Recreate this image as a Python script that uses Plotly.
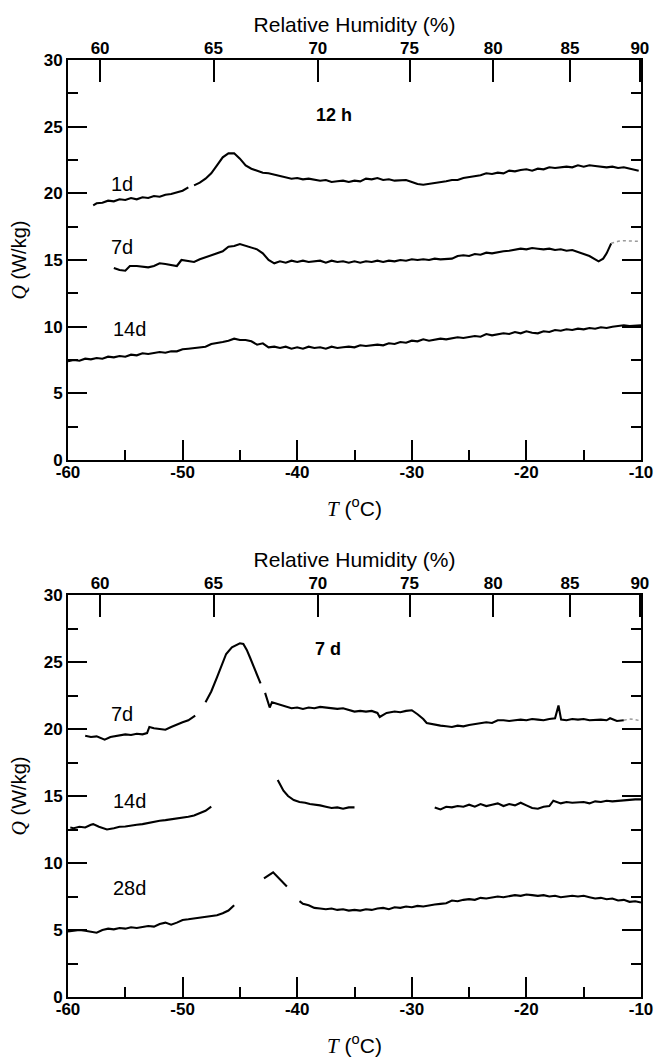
import plotly.graph_objects as go

# ---------------- data ----------------
N = None
# Top panel (12 h)
top_1d_T = [-57.8, -57.5, -57.0, -56.5, -56.0, -55.5, -55.0, -54.5, -54.0, -53.5, -53.0, -52.5, -52.0, -51.5,
            -51.0, -50.5, -50.0, -49.5, -49.25,
            -49.0, -48.5, -48.0, -47.5, -47.0, -46.5, -46.0, -45.5, -45.0, -44.5, -44.0, -43.5, -43.0, -42.5,
            -42.0, -41.5, -41.0, -40.5, -40.0, -39.5, -39.0, -38.5, -38.0, -37.5, -37.0, -36.5, -36.0, -35.5,
            -35.0, -34.5, -34.0, -33.5, -33.0, -32.5, -32.0, -31.5, -31.0, -30.5, -30.0, -29.5, -29.0, -28.5,
            -28.0, -27.5, -27.0, -26.5, -26.0, -25.5, -25.0, -24.5, -24.0, -23.5, -23.0, -22.5, -22.0, -21.5,
            -21.0, -20.5, -20.0, -19.5, -19.0, -18.5, -18.0, -17.5, -17.0, -16.5, -16.0, -15.5, -15.0, -14.5,
            -14.0, -13.5, -13.0, -12.5, -12.0, -11.5, -11.0, -10.5, -10.2]
top_1d_Q = [19.1, 19.25, 19.3, 19.45, 19.4, 19.55, 19.5, 19.65, 19.55, 19.7, 19.65, 19.8, 19.75, 19.9,
            19.95, 20.1, 20.2, 20.45, N,
            20.6, 20.8, 21.1, 21.5, 22.1, 22.7, 23.0, 23.0, 22.6, 22.1, 21.85, 21.7, 21.55, 21.5,
            21.4, 21.35, 21.2, 21.1, 21.15, 21.05, 21.1, 21.0, 20.95, 21.0, 20.85, 20.9, 20.95, 20.85,
            20.95, 20.9, 21.1, 21.05, 21.15, 21.0, 21.05, 20.95, 20.95, 21.0, 20.85, 20.7, 20.65, 20.7,
            20.75, 20.85, 20.9, 21.0, 21.0, 21.15, 21.2, 21.3, 21.35, 21.5, 21.45, 21.55, 21.5, 21.7,
            21.65, 21.75, 21.8, 21.7, 21.85, 21.8, 21.95, 21.9, 21.95, 22.0, 21.95, 22.1, 22.0, 22.1,
            22.05, 22.0, 21.95, 22.0, 21.9, 21.95, 21.85, 21.8, 21.7]

top_7d_T = [-56.0, -55.5, -55.0, -54.6, -54.0, -53.5, -53.0, -52.5, -52.0, -51.5, -51.0, -50.5, -50.1,
            -49.5, -49.0, -48.5, -48.0, -47.5, -47.0, -46.5, -46.0, -45.5, -45.0, -44.5, -44.0, -43.5,
            -43.0, -42.5, -42.0, -41.5, -41.0, -40.5, -40.0, -39.5, -39.0, -38.5, -38.0, -37.5, -37.0,
            -36.5, -36.0, -35.5, -35.0, -34.5, -34.0, -33.5, -33.0, -32.5, -32.0, -31.5, -31.0, -30.5,
            -30.0, -29.5, -29.0, -28.5, -28.0, -27.5, -27.0, -26.5, -26.0, -25.5, -25.0, -24.5, -24.0,
            -23.5, -23.0, -22.5, -22.0, -21.5, -21.0, -20.5, -20.0, -19.5, -19.0, -18.5, -18.0, -17.5,
            -17.0, -16.5, -16.0, -15.5, -15.0, -14.5, -14.0, -13.7, -13.3, -13.0, -12.6]
top_7d_Q = [14.4, 14.25, 14.2, 14.55, 14.55, 14.5, 14.45, 14.55, 14.75, 14.7, 14.6, 14.55, 15.0,
            14.9, 14.85, 15.05, 15.2, 15.35, 15.5, 15.65, 16.0, 16.05, 16.2, 16.05, 15.95, 15.8,
            15.5, 15.0, 14.75, 14.9, 14.8, 14.95, 14.85, 14.95, 14.85, 14.9, 14.95, 14.8, 14.95,
            14.85, 14.9, 14.8, 14.9, 14.8, 14.9, 14.85, 14.95, 14.85, 14.95, 14.9, 15.0, 14.95,
            15.05, 15.0, 15.05, 15.0, 15.1, 15.05, 15.1, 15.1, 15.3, 15.35, 15.3, 15.45, 15.4,
            15.55, 15.5, 15.6, 15.65, 15.7, 15.75, 15.85, 15.8, 15.9, 15.85, 15.8, 15.85, 15.75,
            15.8, 15.7, 15.75, 15.6, 15.45, 15.3, 15.05, 14.9, 15.1, 15.5, 16.25]
top_7d_tail_T = [-12.6, -12.0, -11.5, -11.0, -10.5, -10.2]
top_7d_tail_Q = [16.25, 16.4, 16.45, 16.45, 16.45, 16.4]

top_14d_T = [-60.0, -59.5, -59.0, -58.5, -58.0, -57.5, -57.0, -56.5, -56.0, -55.5, -55.0, -54.5, -54.0,
             -53.5, -53.0, -52.5, -52.0, -51.5, -51.0, -50.5, -50.0, -49.5, -49.0, -48.5, -48.0, -47.5,
             -47.0, -46.5, -46.0, -45.5, -45.0, -44.5, -44.0, -43.5, -43.0, -42.5, -42.0, -41.5, -41.0,
             -40.5, -40.0, -39.5, -39.0, -38.5, -38.0, -37.5, -37.0, -36.5, -36.0, -35.5, -35.0, -34.5,
             -34.0, -33.5, -33.0, -32.5, -32.0, -31.5, -31.0, -30.5, -30.0, -29.5, -29.0, -28.5, -28.0,
             -27.5, -27.0, -26.5, -26.0, -25.5, -25.0, -24.5, -24.0, -23.5, -23.0, -22.5, -22.0, -21.5,
             -21.0, -20.5, -20.0, -19.5, -19.0, -18.5, -18.0, -17.5, -17.0, -16.5, -16.0, -15.5, -15.0,
             -14.5, -14.0, -13.5, -13.0, -12.5, -12.0, -11.5, -11.0, -10.5, -10.0]
top_14d_Q = [7.4, 7.5, 7.45, 7.6, 7.55, 7.65, 7.6, 7.75, 7.7, 7.8, 7.75, 7.9, 7.85,
             8.0, 7.95, 8.05, 8.1, 8.05, 8.15, 8.15, 8.3, 8.35, 8.4, 8.5, 8.5, 8.7,
             8.75, 8.85, 8.95, 9.1, 9.0, 9.0, 8.9, 8.65, 8.75, 8.45, 8.5, 8.4, 8.5,
             8.35, 8.45, 8.35, 8.5, 8.4, 8.45, 8.35, 8.5, 8.4, 8.45, 8.5, 8.45, 8.6,
             8.55, 8.6, 8.65, 8.6, 8.75, 8.7, 8.85, 8.8, 8.95, 8.9, 9.05, 8.95, 9.0,
             9.1, 9.05, 9.15, 9.2, 9.15, 9.25, 9.3, 9.25, 9.45, 9.35, 9.45, 9.5, 9.45,
             9.6, 9.5, 9.65, 9.55, 9.5, 9.65, 9.6, 9.75, 9.7, 9.8, 9.75, 9.85, 9.8,
             9.9, 9.85, 9.95, 9.9, 10.0, 10.05, 10.1, 10.05, 10.1, 10.1]

# Bottom panel (7 d)
bot_7d_T = [-58.5, -58.0, -57.5, -57.0, -56.8, -56.3, -56.0, -55.5, -55.0, -54.5, -54.0, -53.5, -53.1,
            -52.9, -52.5, -52.0, -51.5, -51.0, -50.5, -50.0, -49.5, -48.9, -48.5,
            -48.0, -47.5, -47.0, -46.5, -46.2, -45.7, -45.0, -44.7, -44.4, -44.1, -43.7, -43.2, -43.0,
            -42.8, -42.4, -42.2, -41.5, -41.0, -40.5, -40.0, -39.5, -39.0, -38.5, -38.0, -37.5, -37.0,
            -36.5, -36.0, -35.5, -35.0, -34.5, -34.0, -33.5, -33.0, -32.8, -32.2, -31.5, -31.0, -30.5,
            -30.0, -29.5, -29.0, -28.7, -28.0, -27.5, -27.0, -26.5, -26.0, -25.5, -25.0, -24.5, -24.0,
            -23.5, -23.0, -22.5, -22.0, -21.5, -21.0, -20.5, -20.0, -19.5, -19.0, -18.5, -18.0, -17.5,
            -17.2, -16.97, -16.5, -16.0, -15.5, -15.0, -14.5, -14.0, -13.5, -13.0, -12.7, -12.1, -11.5]
bot_7d_Q = [19.5, 19.4, 19.45, 19.3, 19.2, 19.4, 19.45, 19.5, 19.6, 19.55, 19.65, 19.6, 19.7,
            20.15, 20.05, 20.0, 19.95, 20.15, 20.35, 20.5, 20.65, 21.0, N,
            22.0, 22.8, 23.85, 24.9, 25.6, 26.1, 26.4, 26.35, 25.9, 25.3, 24.4, 23.4, N,
            22.7, 21.6, 22.0, 21.8, 21.7, 21.55, 21.6, 21.5, 21.6, 21.55, 21.65, 21.6, 21.55,
            21.5, 21.55, 21.4, 21.3, 21.35, 21.3, 21.35, 21.2, 20.9, 21.2, 21.3, 21.25, 21.35,
            21.4, 21.1, 20.75, 20.45, 20.3, 20.25, 20.2, 20.15, 20.25, 20.2, 20.3, 20.35, 20.45,
            20.5, 20.45, 20.65, 20.65, 20.6, 20.65, 20.7, 20.65, 20.75, 20.7, 20.65, 20.75, 20.8,
            21.75, 20.7, 20.65, 20.75, 20.7, 20.75, 20.65, 20.7, 20.7, 20.65, 20.8, 20.6, 20.65]
bot_7d_tail_T = [-11.5, -11.0, -10.5, -10.0]
bot_7d_tail_Q = [20.65, 20.75, 20.7, 20.6]

bot_14d_T = [-59.8, -59.5, -59.0, -58.5, -58.0, -57.8, -57.3, -56.6, -56.0, -55.5, -55.0, -54.5, -54.0,
             -53.5, -53.0, -52.5, -52.0, -51.5, -51.0, -50.5, -50.0, -49.5, -49.0, -48.5, -48.0, -47.5,
             -44.0,
             -41.7, -41.2, -40.8, -40.3, -39.8, -39.3, -38.9, -38.4, -38.0, -37.5, -37.0, -36.5, -36.0,
             -35.5, -35.0, -31.0,
             -28.0, -27.5, -27.0, -26.5, -26.0, -25.5, -25.0, -24.5, -24.0, -23.5, -23.0, -22.5, -22.0,
             -21.5, -21.0, -20.5, -20.0, -19.5, -19.0, -18.5, -18.0, -17.65, -17.0, -16.5, -16.0, -15.5,
             -15.0, -14.5, -14.0, -13.5, -13.0, -12.5, -12.0, -11.5, -11.0, -10.5, -10.0]
bot_14d_Q = [12.65, 12.6, 12.7, 12.65, 12.85, 12.9, 12.7, 12.5, 12.6, 12.7, 12.72, 12.8, 12.85,
             12.9, 13.0, 13.05, 13.15, 13.2, 13.25, 13.3, 13.4, 13.45, 13.55, 13.7, 13.9, 14.2,
             N,
             16.2, 15.4, 15.0, 14.7, 14.55, 14.5, 14.4, 14.35, 14.3, 14.2, 14.1, 14.15, 14.05,
             14.15, 14.15, N,
             14.15, 14.0, 14.2, 14.15, 14.25, 14.2, 14.35, 14.2, 14.4, 14.25, 14.35, 14.45, 14.25,
             14.4, 14.3, 14.5, 14.3, 14.1, 14.05, 14.2, 14.25, 14.65, 14.45, 14.55, 14.5, 14.5,
             14.55, 14.45, 14.6, 14.55, 14.65, 14.6, 14.65, 14.7, 14.7, 14.75, 14.75]

bot_28d_T = [-60.0, -59.5, -59.0, -58.5, -58.0, -57.5, -57.0, -56.5, -56.0, -55.5, -55.0, -54.5, -54.0,
             -53.5, -53.0, -52.5, -52.0, -51.5, -51.0, -50.5, -50.0, -49.5, -49.0, -48.5, -48.0, -47.5,
             -47.0, -46.5, -46.0, -45.5, -44.0,
             -42.9, -42.1, -40.9, -40.3,
             -39.8, -39.5, -39.0, -38.5, -38.0, -37.5, -37.0, -36.5, -36.0, -35.5, -35.0, -34.5, -34.0,
             -33.5, -33.0, -32.5, -32.0, -31.5, -31.0, -30.5, -30.0, -29.5, -29.0, -28.5, -28.0, -27.5,
             -27.0, -26.5, -26.0, -25.5, -25.0, -24.5, -24.0, -23.5, -23.0, -22.5, -22.0, -21.5, -21.0,
             -20.5, -20.0, -19.5, -19.0, -18.5, -18.0, -17.5, -17.0, -16.5, -16.0, -15.5, -15.0, -14.5,
             -14.0, -13.5, -13.0, -12.5, -12.0, -11.5, -11.0, -10.5, -10.0]
bot_28d_Q = [4.9, 4.95, 5.0, 4.95, 4.85, 4.8, 5.0, 5.1, 5.05, 5.15, 5.1, 5.2, 5.15,
             5.2, 5.3, 5.25, 5.45, 5.55, 5.4, 5.55, 5.75, 5.8, 5.85, 5.9, 5.95, 6.05,
             6.1, 6.25, 6.45, 6.85, N,
             8.85, 9.3, 8.25, N,
             7.15, 6.95, 6.85, 6.65, 6.6, 6.55, 6.6, 6.5, 6.55, 6.45, 6.5, 6.45, 6.55,
             6.5, 6.6, 6.65, 6.55, 6.7, 6.65, 6.75, 6.7, 6.8, 6.75, 6.85, 6.9, 6.95,
             7.0, 7.2, 7.15, 7.25, 7.3, 7.25, 7.4, 7.35, 7.45, 7.5, 7.45, 7.55, 7.6,
             7.55, 7.65, 7.6, 7.55, 7.6, 7.5, 7.55, 7.45, 7.5, 7.55, 7.5, 7.55, 7.45,
             7.35, 7.4, 7.3, 7.35, 7.2, 7.25, 7.1, 7.15, 7.05]

# Axis tick data
t_range = [-60, -10]
q_range = [0, 30]
t_tickvals = [-60, -50, -40, -30, -20, -10]
t_ticktext = ["-60", "-50", "-40", "-30", "-20", "-10"]
q_tickvals = [0, 5, 10, 15, 20, 25, 30]
q_ticktext = ["0", "5", "10", "15", "20", "25", "30"]
rh_ticktext = ["60", "65", "70", "75", "80", "85", "90"]
rh_tick_T = [-57.2, -47.3, -38.2, -30.2, -22.9, -16.2, -10.1]

# Curve labels (text, T, Q)
top_labels = [("1d", -55.3, 20.7), ("7d", -55.3, 16.0), ("14d", -54.6, 9.8)]
bot_labels = [("7d", -55.3, 21.1), ("14d", -54.6, 14.6), ("28d", -54.6, 8.1)]
top_title = ("12 h", -36.8, 25.9)
bot_title = ("7 d", -37.3, 26.0)

# ---------------- figure ----------------
FONT = "Liberation Sans, Arial, sans-serif"
W, H = 666, 1061
XDOM = [68 / W, 641 / W]
TOP_DOM = [(H - 460) / H, (H - 60) / H]
BOT_DOM = [(H - 997) / H, (H - 595) / H]

fig = go.Figure()
line = dict(color="black", width=2.1)
gray = dict(color="#9a9a9a", width=1.5, dash="dot")


def add(T, Q, xa, ya, ln=line):
    fig.add_trace(go.Scatter(x=T, y=Q, mode="lines", line=ln, xaxis=xa, yaxis=ya,
                             connectgaps=False, showlegend=False, hoverinfo="skip"))


add(top_1d_T, top_1d_Q, "x", "y")
add(top_7d_T, top_7d_Q, "x", "y")
add(top_7d_tail_T, top_7d_tail_Q, "x", "y", gray)
add(top_14d_T, top_14d_Q, "x", "y")
add(bot_7d_T, bot_7d_Q, "x3", "y3")
add(bot_7d_tail_T, bot_7d_tail_Q, "x3", "y3", gray)
add(bot_14d_T, bot_14d_Q, "x3", "y3")
add(bot_28d_T, bot_28d_Q, "x3", "y3")
# invisible traces so the overlay axes exist
add(rh_tick_T, [None] * len(rh_tick_T), "x2", "y")
add(rh_tick_T, [None] * len(rh_tick_T), "x4", "y3")
add(t_range, [None, None], "x", "y2")
add(t_range, [None, None], "x3", "y4")

tickfont = dict(family=FONT, size=17, color="black", weight="bold")
axline = dict(showline=True, linecolor="black", linewidth=1.8, showgrid=False, zeroline=False,
              automargin=False)

xt_title = dict(text='<span style="font-family:Liberation Serif"><i>T</i></span> (<sup>o</sup>C)',
                font=dict(family=FONT, size=21, color="black"), standoff=20)
yq_title = dict(text='<span style="font-family:Liberation Serif"><i>Q</i></span> (W/kg)',
                font=dict(family=FONT, size=20, color="black"), standoff=12)
rh_title = dict(text="Relative Humidity (%)", font=dict(family=FONT, size=21, color="black"), standoff=1)


def xbottom(anchor):
    return dict(domain=XDOM, anchor=anchor, range=t_range, side="bottom",
                tickmode="array", tickvals=t_tickvals, ticktext=t_ticktext,
                ticks="inside", ticklen=20, tickwidth=1.8, ticklabelstandoff=-4,
                tickcolor="black", tickfont=tickfont, title=xt_title,
                minor=dict(ticks="inside", ticklen=10, tickwidth=1.5, tickcolor="black", dtick=5, tick0=-60),
                **axline)


def xtop(anchor, over):
    return dict(domain=XDOM, anchor=anchor, overlaying=over, range=t_range, side="top",
                tickmode="array", tickvals=rh_tick_T, ticktext=rh_ticktext,
                ticks="inside", ticklen=22, tickwidth=1.8, tickcolor="black", ticklabelstandoff=-3,
                tickfont=tickfont, title=rh_title, **axline)


def yleft(anchor, dom):
    return dict(domain=dom, anchor=anchor, range=q_range, side="left",
                tickmode="array", tickvals=q_tickvals, ticktext=q_ticktext,
                ticks="inside", ticklen=19, tickwidth=1.8,
                tickcolor="black", tickfont=tickfont, title=yq_title,
                minor=dict(ticks="inside", ticklen=10, tickwidth=1.5, tickcolor="black", dtick=2.5, tick0=0),
                **axline)


def yright(anchor, over, dom):
    return dict(domain=dom, anchor=anchor, overlaying=over, range=q_range, side="right",
                tickmode="array", tickvals=q_tickvals, ticks="inside", ticklen=19, tickwidth=1.8,
                tickcolor="black", showticklabels=False,
                minor=dict(ticks="inside", ticklen=10, tickwidth=1.5, tickcolor="black", dtick=2.5, tick0=0),
                **axline)


fig.update_layout(
    width=W, height=H,
    margin=dict(l=0, r=0, t=0, b=0, autoexpand=False),
    paper_bgcolor="white", plot_bgcolor="white",
    xaxis=xbottom("y"),
    xaxis2=xtop("y", "x"),
    yaxis=yleft("x", TOP_DOM),
    yaxis2=yright("x", "y", TOP_DOM),
    xaxis3=xbottom("y3"),
    xaxis4=xtop("y3", "x3"),
    yaxis3=yleft("x3", BOT_DOM),
    yaxis4=yright("x3", "y3", BOT_DOM),
)

annots = []
for (txt, tx, qy) in top_labels:
    annots.append(dict(text=txt, x=tx, y=qy, xref="x", yref="y", showarrow=False,
                       font=dict(family=FONT, size=20, color="black")))
for (txt, tx, qy) in bot_labels:
    annots.append(dict(text=txt, x=tx, y=qy, xref="x3", yref="y3", showarrow=False,
                       font=dict(family=FONT, size=20, color="black")))
annots.append(dict(text=top_title[0], x=top_title[1], y=top_title[2], xref="x", yref="y", showarrow=False,
                   font=dict(family=FONT, size=18, color="black", weight="bold")))
annots.append(dict(text=bot_title[0], x=bot_title[1], y=bot_title[2], xref="x3", yref="y3", showarrow=False,
                   font=dict(family=FONT, size=18, color="black", weight="bold")))
fig.update_layout(annotations=annots)

fig.write_html("out.html", config={"displayModeBar": False},
               post_script="document.body.style.margin='0';")
